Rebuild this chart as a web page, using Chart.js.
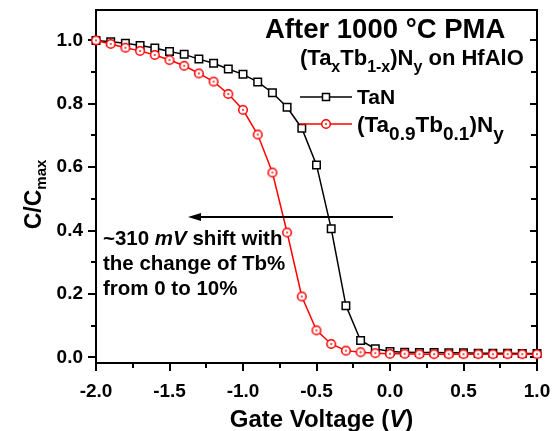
<!DOCTYPE html>
<html>
<head>
<meta charset="utf-8">
<script src="https://cdn.jsdelivr.net/npm/chart.js@4.4.0/dist/chart.umd.min.js"></script>
<style>
  html, body { margin: 0; padding: 0; background: #fff; }
</style>
</head>
<body>
<canvas id="chart" width="557" height="431"></canvas>
<script>
// gate voltage (V), one point every 0.1 V
const volts = [-2.0, -1.9, -1.8, -1.7, -1.6, -1.5, -1.4, -1.3, -1.2, -1.1, -1.0,
  -0.9, -0.8, -0.7, -0.6, -0.5, -0.4, -0.3, -0.2, -0.1, 0.0,
  0.1, 0.2, 0.3, 0.4, 0.5, 0.6, 0.7, 0.8, 0.9, 1.0];
// C/Cmax for TaN
const taN = [1.000, 0.996, 0.991, 0.984, 0.976, 0.965, 0.956, 0.941, 0.928, 0.910, 0.893,
  0.869, 0.835, 0.789, 0.723, 0.607, 0.406, 0.163, 0.053, 0.027, 0.018,
  0.016, 0.015, 0.015, 0.014, 0.014, 0.013, 0.013, 0.013, 0.012, 0.012];
// C/Cmax for (Ta0.9Tb0.1)Ny
const taTbN = [1.000, 0.989, 0.977, 0.967, 0.954, 0.938, 0.920, 0.896, 0.870, 0.831, 0.781,
  0.703, 0.583, 0.394, 0.192, 0.085, 0.042, 0.021, 0.016, 0.013, 0.011,
  0.011, 0.010, 0.010, 0.010, 0.010, 0.010, 0.010, 0.010, 0.010, 0.010];

const xTicks = [-2.0, -1.5, -1.0, -0.5, 0.0, 0.5, 1.0];
const xMinor = [-1.75, -1.25, -0.75, -0.25, 0.25, 0.75];
const yTicks = [0.0, 0.2, 0.4, 0.6, 0.8, 1.0];
const yMinor = [0.1, 0.3, 0.5, 0.7, 0.9];

const FONT = '"Liberation Sans", Arial, sans-serif';

//circle with a dot in the middle, used as point style
function makeCircle() {
  const c = document.createElement("canvas");
  c.width = 12; c.height = 12;
  const g = c.getContext("2d");
  g.fillStyle = "#fff";
  g.strokeStyle = "#ff0000";
  g.lineWidth = 1.5;
  g.beginPath(); g.arc(6, 6, 4.3, 0, Math.PI * 2); g.fill(); g.stroke();
  g.fillStyle = "#ff0000";
  g.beginPath(); g.arc(6, 6, 0.9, 0, Math.PI * 2); g.fill();
  return c;
}
const circleImg = makeCircle();

//draw text made of parts, some of them subscript or italic
function richText(ctx, parts, x, y, size, subSize, subDy) {
  let cx = x;
  for (const p of parts) {
    const s = p.sub ? subSize : size;
    ctx.font = (p.it ? "italic " : "") + "bold " + s + "px " + FONT;
    ctx.fillText(p.t, cx, y + (p.sub ? subDy : 0));
    cx += ctx.measureText(p.t).width;
  }
  return cx - x;
}
function richWidth(ctx, parts, size, subSize) {
  let w = 0;
  for (const p of parts) {
    const s = p.sub ? subSize : size;
    ctx.font = (p.it ? "italic " : "") + "bold " + s + "px " + FONT;
    w += ctx.measureText(p.t).width;
  }
  return w;
}

//frame and tick marks
const framePlugin = {
  id: "frame",
  beforeDatasetsDraw(chart) {
    const { ctx, chartArea: a, scales: { x, y } } = chart;
    ctx.save();
    ctx.strokeStyle = "#000";
    ctx.lineWidth = 2;
    ctx.strokeRect(a.left, a.top, a.right - a.left, a.bottom - a.top);
    ctx.beginPath();
    for (const v of yTicks) {
      const py = Math.round(y.getPixelForValue(v));
      ctx.moveTo(a.left - 8, py); ctx.lineTo(a.left, py);
      ctx.moveTo(a.right, py); ctx.lineTo(a.right - 7, py);
    }
    for (const v of yMinor) {
      const py = Math.round(y.getPixelForValue(v));
      ctx.moveTo(a.left - 5, py); ctx.lineTo(a.left, py);
      ctx.moveTo(a.right, py); ctx.lineTo(a.right - 6, py);
    }
    for (const v of xTicks) {
      const px = Math.round(x.getPixelForValue(v));
      ctx.moveTo(px, a.bottom); ctx.lineTo(px, a.bottom + 8);
    }
    for (const v of xMinor) {
      const px = Math.round(x.getPixelForValue(v));
      ctx.moveTo(px, a.bottom); ctx.lineTo(px, a.bottom + 5);
    }
    ctx.stroke();
    ctx.restore();
  },
  afterDraw(chart) {
    const { ctx, chartArea: a, scales: { x, y } } = chart;
    ctx.save();
    ctx.fillStyle = "#000";
    ctx.textBaseline = "alphabetic";

    //axis titles
    const xt = [{ t: "Gate Voltage (" }, { t: "V", it: true }, { t: ")" }];
    const xw = richWidth(ctx, xt, 24, 24);
    richText(ctx, xt, (a.left + a.right) / 2 + 5 - xw / 2, 427, 24, 24, 0);

    const yt = [{ t: "C/C" }, { t: "max", sub: true }];
    ctx.save();
    ctx.translate(41, (a.top + a.bottom) / 2 + 8);
    ctx.rotate(-Math.PI / 2);
    const yw = richWidth(ctx, yt, 23, 15);
    richText(ctx, yt, -yw / 2, 0, 23, 15, 5);
    ctx.restore();

    //titles at the top right
    ctx.font = "bold 27.5px " + FONT;
    ctx.fillText("After 1000 \u00B0C PMA", 265, 38);
    richText(ctx, [{ t: "(Ta" }, { t: "x", sub: true }, { t: "Tb" }, { t: "1-x", sub: true },
      { t: ")N" }, { t: "y", sub: true }, { t: " on HfAlO" }], 300, 65, 22, 16, 7);

    //legend
    ctx.lineWidth = 1.5;
    ctx.strokeStyle = "#000";
    ctx.beginPath(); ctx.moveTo(300, 97); ctx.lineTo(352, 97); ctx.stroke();
    ctx.fillStyle = "#fff";
    ctx.fillRect(322.5, 93.5, 7, 7);
    ctx.strokeRect(322.5, 93.5, 7, 7);
    ctx.fillStyle = "#000";
    ctx.font = "bold 21px " + FONT;
    ctx.fillText("TaN", 357, 104);

    ctx.strokeStyle = "#ff0000";
    ctx.beginPath(); ctx.moveTo(300, 124); ctx.lineTo(352, 124); ctx.stroke();
    ctx.drawImage(circleImg, 320, 118);
    ctx.fillStyle = "#000";
    richText(ctx, [{ t: "(Ta" }, { t: "0.9", sub: true }, { t: "Tb" }, { t: "0.1", sub: true },
      { t: ")N" }, { t: "y", sub: true }], 357, 132, 22.5, 19, 8);

    //arrow for the shift
    const ay = Math.round(y.getPixelForValue(0.444));
    const ax0 = x.getPixelForValue(0.02);
    const ax1 = x.getPixelForValue(-1.374);
    ctx.strokeStyle = "#000";
    ctx.lineWidth = 2;
    ctx.beginPath(); ctx.moveTo(ax0, ay); ctx.lineTo(ax1 + 8, ay); ctx.stroke();
    ctx.beginPath();
    ctx.moveTo(ax1, ay); ctx.lineTo(ax1 + 13, ay - 4); ctx.lineTo(ax1 + 13, ay + 4);
    ctx.closePath(); ctx.fill();

    richText(ctx, [{ t: "~310 " }, { t: "mV", it: true }, { t: " shift with" }], 103, 245, 20.5, 20.5, 0);
    ctx.font = "bold 20.5px " + FONT;
    ctx.fillText("the change of Tb%", 103, 270);
    ctx.fillText("from 0 to 10%", 103, 295);
    ctx.restore();
  },
};

const tickFont = { family: FONT, size: 19, weight: "bold" };

new Chart(document.getElementById("chart"), {
  type: "line",
  plugins: [framePlugin],
  data: {
    labels: volts,
    datasets: [
      {
        label: "(Ta0.9Tb0.1)Ny",
        data: volts.map((v, i) => ({ x: v, y: taTbN[i] })),
        borderColor: "#ff0000",
        borderWidth: 1.5,
        pointStyle: circleImg,
        clip: false,
        order: 0,
      },
      {
        label: "TaN",
        data: volts.map((v, i) => ({ x: v, y: taN[i] })),
        borderColor: "#000",
        borderWidth: 1.5,
        pointStyle: "rect",
        pointRadius: 5.3,
        pointBorderWidth: 1.5,
        pointBorderColor: "#000",
        pointBackgroundColor: "#fff",
        clip: false,
        order: 1,
      },
    ],
  },
  options: {
    responsive: false,
    animation: false,
    devicePixelRatio: 1,
    layout: { padding: { top: 10, right: 20, left: 0, bottom: 0 } },
    plugins: { legend: { display: false }, tooltip: { enabled: false } },
    scales: {
      x: {
        type: "linear",
        min: -2,
        max: 1,
        afterBuildTicks: (s) => { s.ticks = xTicks.map((v) => ({ value: v })); },
        afterFit: (s) => { s.height = 68; s.paddingLeft = 0; s.paddingRight = 0; },
        grid: { display: false, drawTicks: false },
        border: { display: false },
        ticks: { font: tickFont, color: "#000", padding: 17, maxRotation: 0, autoSkip: false,
          callback: (v) => v.toFixed(1) },
      },
      y: {
        min: -0.018,
        max: 1.096,
        afterBuildTicks: (s) => { s.ticks = yTicks.map((v) => ({ value: v })); },
        afterFit: (s) => { s.width = 96; s.paddingTop = 0; s.paddingBottom = 0; },
        grid: { display: false, drawTicks: false },
        border: { display: false },
        ticks: { font: tickFont, color: "#000", padding: 13, autoSkip: false,
          callback: (v) => v.toFixed(1) },
      },
    },
  },
});
</script>
</body>
</html>
